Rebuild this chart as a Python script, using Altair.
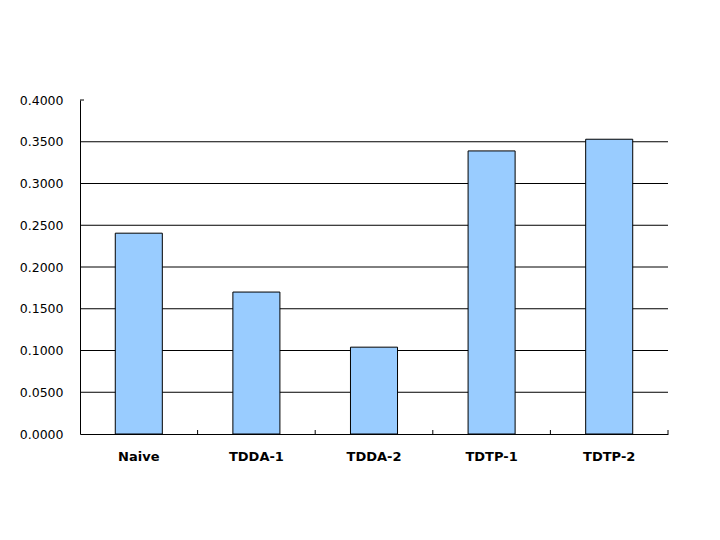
import altair as alt
import pandas as pd

categories = ["Naive", "TDDA-1", "TDDA-2", "TDTP-1", "TDTP-2"]
values = [0.2405, 0.1700, 0.1040, 0.3390, 0.3530]
grid_values = [0.05, 0.1, 0.15, 0.2, 0.25, 0.3, 0.35]
tick_values = [0, 0.05, 0.1, 0.15, 0.2, 0.25, 0.3, 0.35, 0.4]

df = pd.DataFrame({"method": categories, "value": values})
gdf = pd.DataFrame({"g": grid_values})
topdf = pd.DataFrame({"g": [0.4]})

W, H = 588, 334
yscale = alt.Scale(domain=[0, 0.4], nice=False)
xscale = alt.Scale(paddingInner=0.6, paddingOuter=0.3)
step = W / len(categories)

bars = alt.Chart(df).mark_bar(
    fill="#99CCFF", stroke="black", strokeWidth=1
).encode(
    x=alt.X("method:N", sort=categories, title=None, scale=xscale,
            axis=alt.Axis(labelAngle=0, labelFont="DejaVu Sans", labelFontWeight="bold",
                          labelFontSize=13, labelColor="black", labelPadding=16,
                          domainColor="black", domainWidth=1, ticks=False,
                          grid=False)),
    y=alt.Y("value:Q", title=None, scale=yscale,
            axis=alt.Axis(values=tick_values,
                          format=".4f", labelFont="DejaVu Sans", labelFontSize=12.5,
                          labelColor="black", labelPadding=17, ticks=False,
                          domainColor="black", grid=False, labelFontWeight="normal")),
)

grid = alt.Chart(gdf).mark_rule(color="black", strokeWidth=1).encode(
    y=alt.Y("g:Q", scale=yscale),
    x=alt.value(0), x2=alt.value(W),
)

toptick = alt.Chart(topdf).mark_rule(color="black", strokeWidth=1).encode(
    y=alt.Y("g:Q", scale=yscale),
    x=alt.value(0), x2=alt.value(4),
)

# small inward boundary ticks on the category axis (between categories)
bounds = alt.Chart(df).mark_rule(color="black", strokeWidth=1, xOffset=step * 0.3).encode(
    x=alt.X("method:N", sort=categories, bandPosition=1, scale=xscale),
    y=alt.value(H),
    y2=alt.value(H - 4),
)

chart = alt.layer(grid, toptick, bars, bounds).properties(
    width=W, height=H,
    autosize=alt.AutoSizeParams(type="none"),
    padding={"left": 72, "top": 92, "right": 44, "bottom": 98},
    background="white",
).configure_view(stroke=None)

chart.save("out.html", embed_options={"renderer": "svg", "actions": False})
